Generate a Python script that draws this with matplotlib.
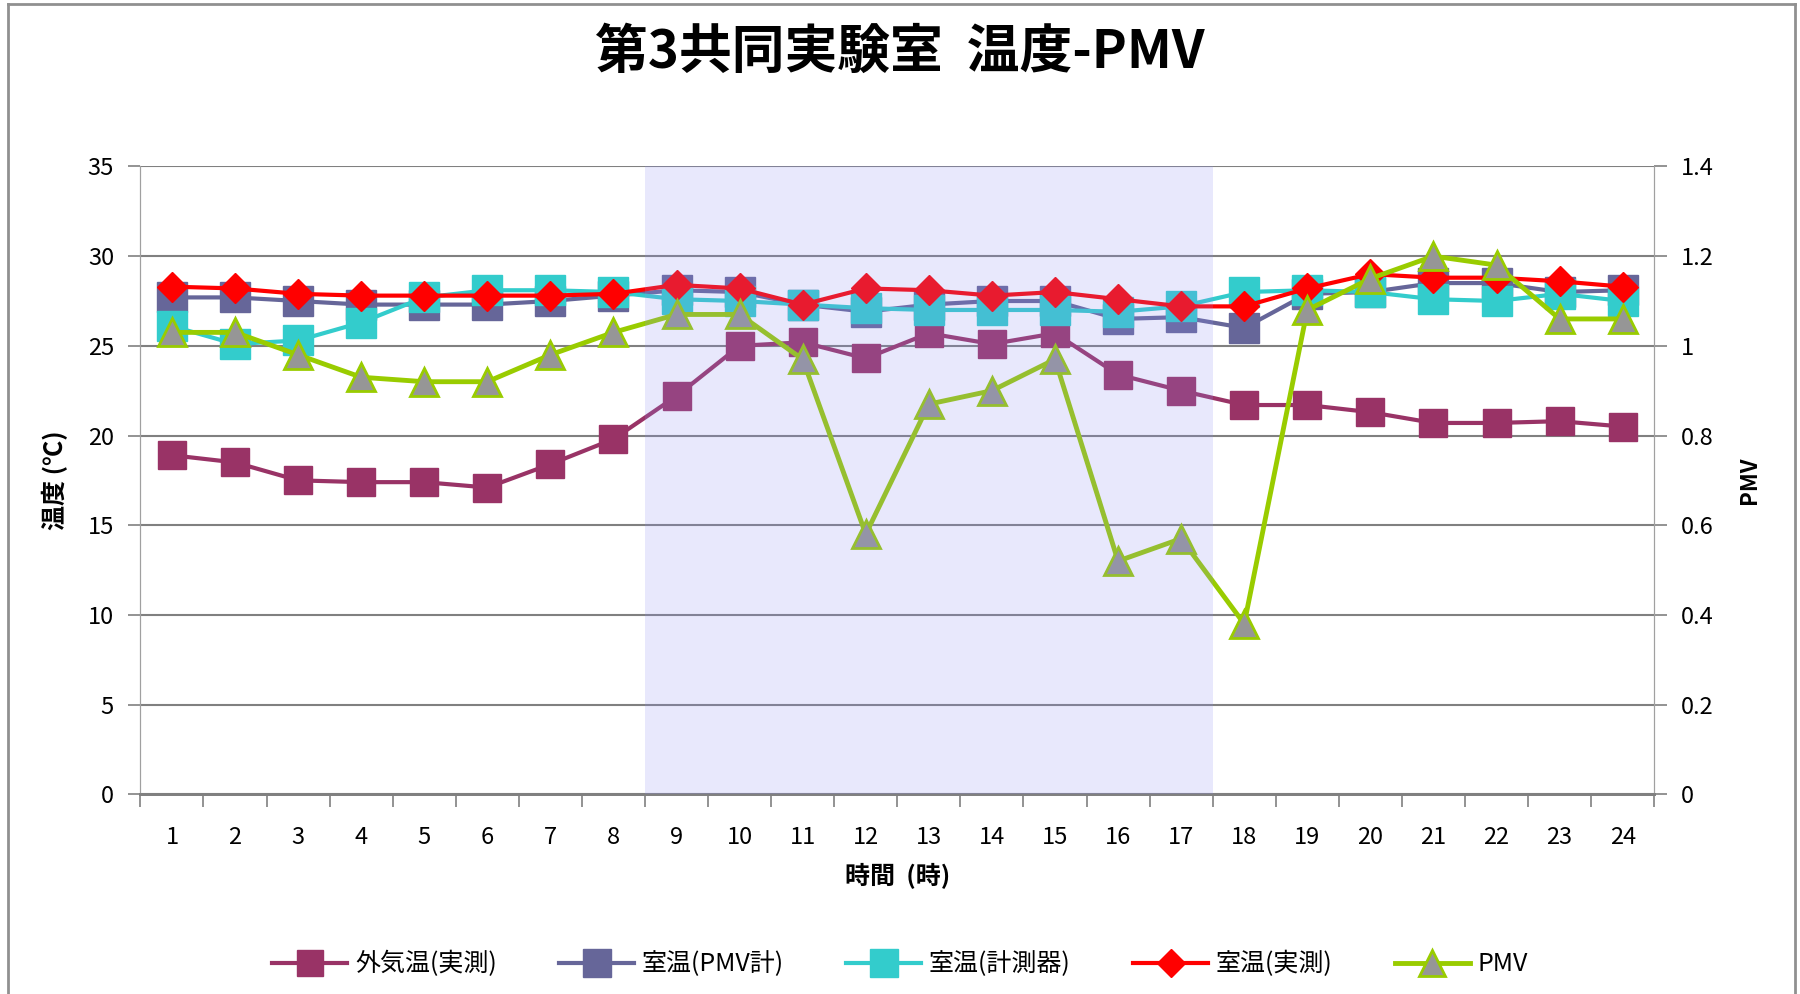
import matplotlib
matplotlib.use('Agg')
import matplotlib.pyplot as plt
from matplotlib.lines import Line2D

plt.rcParams['font.family'] = ['Noto Sans CJK JP', 'DejaVu Sans']

# Data
hours = list(range(1, 25))
outdoor = [18.9, 18.5, 17.5, 17.4, 17.4, 17.1, 18.4, 19.8, 22.2, 25.0, 25.2, 24.3,
           25.7, 25.1, 25.7, 23.4, 22.5, 21.7, 21.7, 21.3, 20.7, 20.7, 20.8, 20.5]
room_pmv = [27.7, 27.7, 27.5, 27.3, 27.3, 27.3, 27.5, 27.8, 28.1, 28.0, 27.3, 26.9,
            27.3, 27.5, 27.5, 26.5, 26.6, 26.0, 27.9, 28.0, 28.5, 28.5, 28.0, 28.1]
room_meter = [26.1, 25.1, 25.3, 26.3, 27.7, 28.1, 28.1, 28.0, 27.6, 27.5, 27.3, 27.1,
              27.0, 27.0, 27.0, 26.9, 27.2, 28.0, 28.1, 28.0, 27.6, 27.5, 27.9, 27.5]
room_actual = [28.3, 28.2, 27.9, 27.8, 27.8, 27.8, 27.8, 27.9, 28.4, 28.2, 27.3, 28.2,
               28.1, 27.8, 28.0, 27.6, 27.2, 27.2, 28.2, 29.0, 28.8, 28.8, 28.6, 28.3]
pmv = [1.03, 1.03, 0.98, 0.93, 0.92, 0.92, 0.98, 1.03, 1.07, 1.07, 0.97, 0.58,
       0.87, 0.90, 0.97, 0.52, 0.57, 0.38, 1.08, 1.15, 1.20, 1.18, 1.06, 1.06]
work_start, work_end = 9, 17

labels = ['外気温(実測)', '室温(PMV計)', '室温(計測器)', '室温(実測)', 'PMV']

fig = plt.figure(figsize=(18, 9.94), dpi=100)
ax = fig.add_axes([0.078, 0.201, 0.841, 0.6315])
ax2 = ax.twinx()

# temperature series
l1, = ax.plot(hours, outdoor, color='#993366', lw=3, marker='s', ms=20,
              mfc='#993366', mec='#993366', zorder=3)
l2, = ax.plot(hours, room_pmv, color='#666699', lw=3, marker='s', ms=21,
              mfc='#666699', mec='#666699', zorder=3)
l3, = ax.plot(hours, room_meter, color='#33CCCC', lw=3, marker='s', ms=21,
              mfc='#33CCCC', mec='#33CCCC', zorder=4)
l4, = ax.plot(hours, room_actual, color='#FF0000', lw=3, marker='D', ms=15,
              mfc='#FF0000', mec='#FF0000', zorder=5)

# PMV on secondary axis
l5, = ax2.plot(hours, pmv, color='#99CC00', lw=3.5, marker='^', ms=20,
               mfc='#969696', mec='#99CC00', mew=2, zorder=3)

# working hours band (drawn on top, semi-transparent)
ax2.axvspan(work_start - 0.5, work_end + 0.5, color='#8C8CF0', alpha=0.2,
            lw=0, zorder=10)

ax.set_xlim(0.5, 24.5)
ax.set_ylim(0, 35)
ax2.set_ylim(0, 1.4)
ax.set_yticks(range(0, 36, 5))
ax2.set_yticks([0, 0.2, 0.4, 0.6, 0.8, 1.0, 1.2, 1.4])
ax2.set_yticklabels(['0', '0.2', '0.4', '0.6', '0.8', '1', '1.2', '1.4'])

ax.set_xticks(hours)
ax.set_xticks([h + 0.5 for h in range(0, 25)], minor=True)
ax.tick_params(axis='x', which='major', length=0, pad=23, labelsize=17)
ax.tick_params(axis='x', which='minor', length=9, color='#808080', width=1.2)
ax.tick_params(axis='y', length=9, color='#808080', width=1.2, labelsize=17, pad=10)
ax2.tick_params(axis='y', length=9, color='#808080', width=1.2, labelsize=17, pad=10)

ax.grid(axis='y', color='#808080', lw=1.5)
ax.set_axisbelow(True)

for a in (ax, ax2):
    a.spines['top'].set_visible(False)
    a.spines['left'].set_color('#A0A0A0')
    a.spines['right'].set_color('#A0A0A0')
    a.spines['bottom'].set_color('#808080')
    a.spines['bottom'].set_linewidth(2)

ax.set_xlabel('時間  (時)', fontsize=18, fontweight='bold', labelpad=10)
ax.set_ylabel('温度 (℃)', fontsize=18, fontweight='bold', labelpad=14)
ax2.set_ylabel('PMV', fontsize=16, fontweight='bold', labelpad=18)

fig.text(0.5, 0.947, '第3共同実験室  温度-PMV', ha='center', va='center',
         fontsize=38, fontweight='bold')

fig.legend([l1, l2, l3, l4, l5], labels, loc='center', bbox_to_anchor=(0.5, 0.03),
           ncol=5, frameon=False, fontsize=18, handlelength=3, columnspacing=2.5,
           handletextpad=0.3, markerscale=0.95)

# outer chart border (left, top, right)
border = dict(transform=fig.transFigure, color='#909090', lw=2)
fig.lines.append(Line2D([0.0045, 0.0045], [0.0, 0.996], **border))
fig.lines.append(Line2D([0.0045, 0.997], [0.996, 0.996], **border))
fig.lines.append(Line2D([0.997, 0.997], [0.0, 0.996], **border))

fig.savefig('out.png', dpi=100)
